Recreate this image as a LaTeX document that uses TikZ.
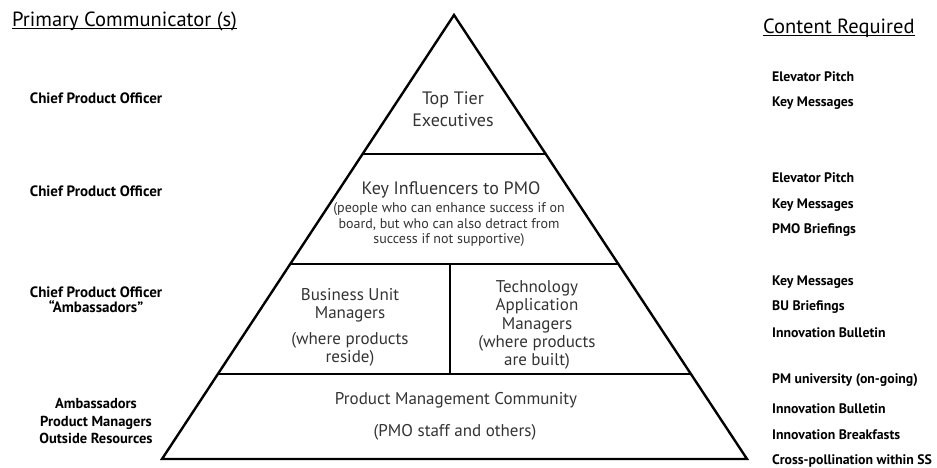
\documentclass[tikz,border=0pt]{standalone}
\usepackage{fontspec}
\setmainfont{PT Sans}
\usetikzlibrary{calc}
\begin{document}
\begin{tikzpicture}[x=1pt,y=-1pt,
  tier/.style={font=\fontsize{17}{18.2}\selectfont, align=center, text=black!80, inner sep=0pt},
  note/.style={font=\fontsize{14}{15.5}\selectfont, align=center, text=black!80, inner sep=0pt},
  lab/.style={font=\bfseries\fontsize{15}{15}\selectfont, align=center, inner sep=0pt},
  cont/.style={font=\bfseries\fontsize{13.8}{14}\selectfont, anchor=west, inner sep=0pt},
  head/.style={font=\fontsize{20.5}{22}\selectfont, anchor=west, inner sep=0pt},
  outline/.style={line width=2.4pt, line join=miter},
  tierline/.style={line width=2pt},
  divline/.style={line width=1.3pt}
]
\useasboundingbox (0,0) rectangle (937,467);
% pyramid
\coordinate (apex) at (454,15);
\coordinate (bl) at (162,459);
\coordinate (br) at (747,459);
\draw[outline] (apex) -- (br) -- (bl) -- cycle;
\coordinate (l1) at ($(apex)!0.3131!(bl)$);
\coordinate (r1) at ($(apex)!0.3131!(br)$);
\coordinate (l2) at ($(apex)!0.5608!(bl)$);
\coordinate (r2) at ($(apex)!0.5608!(br)$);
\coordinate (l3) at ($(apex)!0.8086!(bl)$);
\coordinate (r3) at ($(apex)!0.8086!(br)$);
\draw[tierline] (l1) -- (r1);
\draw[tierline] (l2) -- (r2);
\draw[tierline] (l3) -- (r3);
\coordinate (dtop) at (450,264);
\coordinate (dbot) at (450,374);
\draw[divline] (dtop) -- (dbot);
% pyramid texts
\node[tier, font=\fontsize{18}{22}\selectfont] (top) at (453,109) {Top Tier\\Executives};
\node[tier, font=\fontsize{18}{20}\selectfont] (key) at (451,190) {Key Influencers to PMO};
\node[note] (keynote) at (449,225) {(people who can enhance success if on\\board, but who can also detract from\\success if not supportive)};
\node[tier] (bu) at (350,305) {Business Unit\\Managers};
\node[tier] (bunote) at (350,349) {(where products\\reside)};
\node[tier] (tech) at (537,325) {Technology\\Application\\Managers\\(where products\\are built)};
\node[tier] (pmc) at (456,400) {Product Management Community};
\node[tier] (pmo) at (455,432) {(PMO staff and others)};
% left column
\node[head] (pc) at (12,21) {Primary Communicator (s)};
\draw[line width=0.9pt] ([yshift=-2pt]pc.base west) -- ([yshift=-2pt]pc.base east);
\node[lab] (c1) at (96,98) {Chief Product Officer};
\node[lab] (c2) at (96,191) {Chief Product Officer};
\node[lab] (c3) at (96,300) {Chief Product Officer\\“Ambassadors”};
\node[lab, font=\bfseries\fontsize{14.5}{17.5}\selectfont] (c4) at (96,421) {Ambassadors\\Product Managers\\Outside Resources};
% right column
\node[head] (cr) at (763,28) {Content Required};
\draw[line width=0.9pt] ([yshift=-2pt]cr.base west) -- ([yshift=-2pt]cr.base east);
\node[cont] (r1a) at (772,77) {Elevator Pitch};
\node[cont] (r1b) at (772,103) {Key Messages};
\node[cont] (r2a) at (772,178) {Elevator Pitch};
\node[cont] (r2b) at (772,205) {Key Messages};
\node[cont] (r2c) at (772,230) {PMO Briefings};
\node[cont] (r3a) at (772,282) {Key Messages};
\node[cont] (r3b) at (772,307) {BU Briefings};
\node[cont] (r3c) at (772,333) {Innovation Bulletin};
\node[cont] (r4a) at (772,380) {PM university (on-going)};
\node[cont] (r4b) at (772,409) {Innovation Bulletin};
\node[cont] (r4c) at (772,435) {Innovation Breakfasts};
\node[cont] (r4d) at (772,461) {Cross-pollination within SS};
\end{tikzpicture}
\end{document}
